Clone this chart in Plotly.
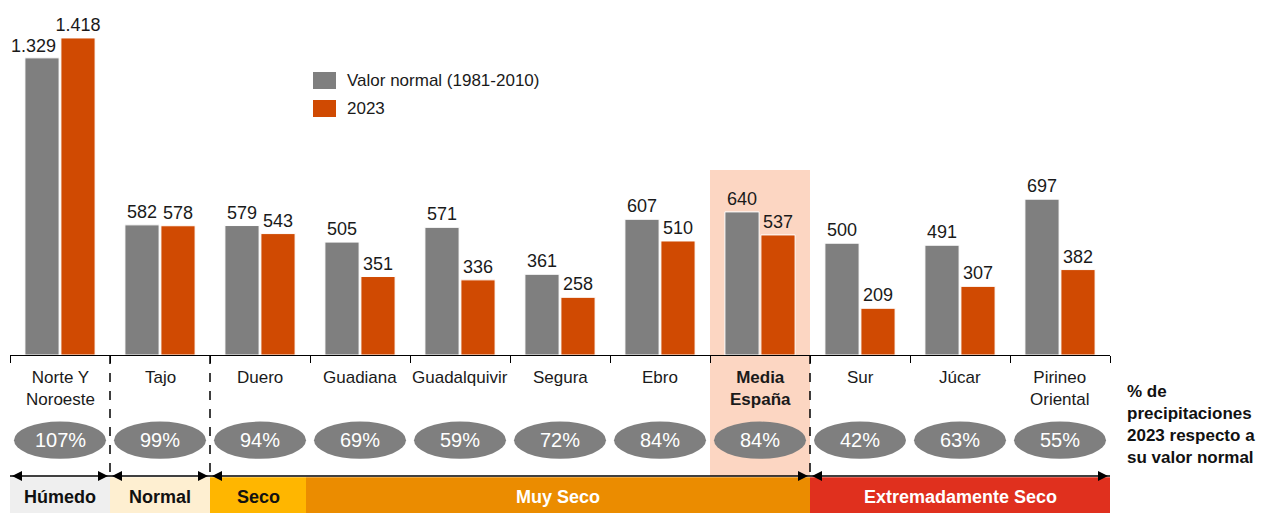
import plotly.graph_objects as go

categories = ["Norte Y<br>Noroeste", "Tajo", "Duero", "Guadiana", "Guadalquivir", "Segura",
              "Ebro", "<b>Media<br>España</b>", "Sur", "Júcar", "Pirineo<br>Oriental"]
normal_values = [1329, 582, 579, 505, 571, 361, 607, 640, 500, 491, 697]
values_2023 = [1418, 578, 543, 351, 336, 258, 510, 537, 209, 307, 382]
pct_labels = ["107%", "99%", "94%", "69%", "59%", "72%", "84%", "84%", "42%", "63%", "55%"]
series_names = ["Valor normal (1981-2010)", "2023"]
bands = [("Húmedo", -0.5, 0.5, "#EFEFEF", "#111111"),
         ("Normal", 0.5, 1.5, "#FEEFD1", "#111111"),
         ("Seco", 1.5, 2.46, "#FFB600", "#111111"),
         ("Muy Seco", 2.46, 7.5, "#EB8C00", "#FFFFFF"),
         ("Extremadamente Seco", 7.5, 10.5, "#E0301E", "#FFFFFF")]
arrow_segments = [(-0.5, 0.5), (0.5, 1.5), (1.5, 7.5), (7.5, 10.5)]
dashed_x = [0.5, 1.5, 7.5]

FONT = "Liberation Sans, Arial, Helvetica, sans-serif"
GRAY = "#7F7F7F"
ORANGE = "#D04A02"
colors = [GRAY, ORANGE]
xs = list(range(len(categories)))


def es_fmt(v):
    return f"{v:,}".replace(",", ".")


# the first grey label is drawn as an annotation shifted left (as in the original)
normal_text = [""] + [es_fmt(v) for v in normal_values[1:]]
text_2023 = [es_fmt(v) for v in values_2023]

fig = go.Figure()
for name, vals, txt, col in zip(series_names, [normal_values, values_2023],
                                [normal_text, text_2023], colors):
    fig.add_trace(go.Bar(x=xs, y=vals, name=name, text=txt,
                         marker=dict(color=col, line=dict(color="white", width=1)),
                         texttemplate="%{text}", textposition="outside", cliponaxis=False,
                         constraintext="none",
                         textfont=dict(size=18, color="#1a1a1a", family=FONT)))

shapes = []
annotations = []

annotations.append(dict(x=xs[0] - 0.18, y=normal_values[0], xref="x", yref="y",
                        text=es_fmt(normal_values[0]), showarrow=False, xanchor="center",
                        yanchor="bottom", xshift=-9, yshift=0,
                        font=dict(size=18, color="#1a1a1a", family=FONT)))

# highlight for Media España
shapes.append(dict(type="rect", xref="x", yref="paper", x0=6.5, x1=7.5, y0=-0.351, y1=0.536,
                   fillcolor="#FCD6C2", line=dict(width=0), layer="below"))

# dashed separators
for xd in dashed_x:
    shapes.append(dict(type="line", xref="x", yref="paper", x0=xd, x1=xd, y0=0, y1=-0.351,
                       line=dict(color="black", width=1.5, dash="dash")))

# category labels, ellipses and percentages
for i, (cat, pct) in enumerate(zip(categories, pct_labels)):
    annotations.append(dict(x=i, y=-0.033, xref="x", yref="paper", text=cat, showarrow=False,
                            yanchor="top", font=dict(size=17, color="#1a1a1a", family=FONT)))
    shapes.append(dict(type="circle", xref="x", yref="paper", x0=i - 0.46, x1=i + 0.46,
                       y0=-0.301, y1=-0.193, fillcolor=GRAY, line=dict(width=0)))
    annotations.append(dict(x=i, y=-0.247, xref="x", yref="paper", text=pct, showarrow=False,
                            yanchor="middle", font=dict(size=20, color="white", family=FONT)))

# bottom bands
for label, x0, x1, col, tcol in bands:
    shapes.append(dict(type="rect", xref="x", yref="paper", x0=x0, x1=x1, y0=-0.48, y1=-0.354,
                       fillcolor=col, line=dict(width=0)))
    annotations.append(dict(x=(x0 + x1) / 2, y=-0.412, xref="x", yref="paper",
                            text="<b>" + label + "</b>", showarrow=False, yanchor="middle",
                            font=dict(size=18, color=tcol, family=FONT)))

# arrows
ya = -0.3507
hl = 0.1
hh = 0.0145
for x0, x1 in arrow_segments:
    shapes.append(dict(type="line", xref="x", yref="paper", x0=x0, x1=x1, y0=ya, y1=ya,
                       line=dict(color="black", width=1.3)))
    l = x0 + 0.02
    r = x1 - 0.02
    shapes.append(dict(type="path", xref="x", yref="paper",
                       path=f"M {l} {ya} L {l + hl} {ya + hh} L {l + hl} {ya - hh} Z",
                       fillcolor="black", line=dict(width=0)))
    shapes.append(dict(type="path", xref="x", yref="paper",
                       path=f"M {r} {ya} L {r - hl} {ya + hh} L {r - hl} {ya - hh} Z",
                       fillcolor="black", line=dict(width=0)))


# custom legend (larger swatches)
def px_x(px):
    return (px - 10) / 1100.0


def px_y(py):
    return (355 - py) / 345.0


for k, (name, col) in enumerate(zip(series_names, colors)):
    top = 72 + 28 * k
    shapes.append(dict(type="rect", xref="paper", yref="paper",
                       x0=px_x(313), x1=px_x(336), y0=px_y(top + 17), y1=px_y(top),
                       fillcolor=col, line=dict(width=0)))
    annotations.append(dict(x=px_x(345), y=px_y(top + 8.5), xref="paper", yref="paper",
                            xanchor="left", yanchor="middle", showarrow=False, text=name,
                            font=dict(size=17, color="#1a1a1a", family=FONT)))

# right side note
annotations.append(dict(x=1.0136, y=-0.201, xref="paper", yref="paper", xanchor="left",
                        yanchor="middle", align="left", showarrow=False,
                        text="<b>% de<br>precipitaciones<br>2023 respecto a<br>su valor normal</b>",
                        font=dict(size=17, color="#111111", family=FONT)))

# page body has an 8px default margin: size/margins compensate for it
fig.update_layout(
    width=1261, height=505,
    margin=dict(l=2, r=159, t=2, b=158),
    paper_bgcolor="white", plot_bgcolor="rgba(0,0,0,0)",
    barmode="group", bargap=0.28, bargroupgap=0.05,
    font=dict(family=FONT, size=17, color="#1a1a1a"),
    showlegend=False,
    shapes=shapes, annotations=annotations,
)
fig.update_xaxes(range=[-0.5, 10.5], showgrid=False, zeroline=False, showline=True,
                 linecolor="black", linewidth=1, ticks="outside", ticklen=7, tickcolor="black",
                 tickvals=[i - 0.5 for i in range(len(categories) + 1)], showticklabels=False)
fig.update_yaxes(range=[0, 1543], visible=False, showgrid=False)

fig.write_html("out.html")
